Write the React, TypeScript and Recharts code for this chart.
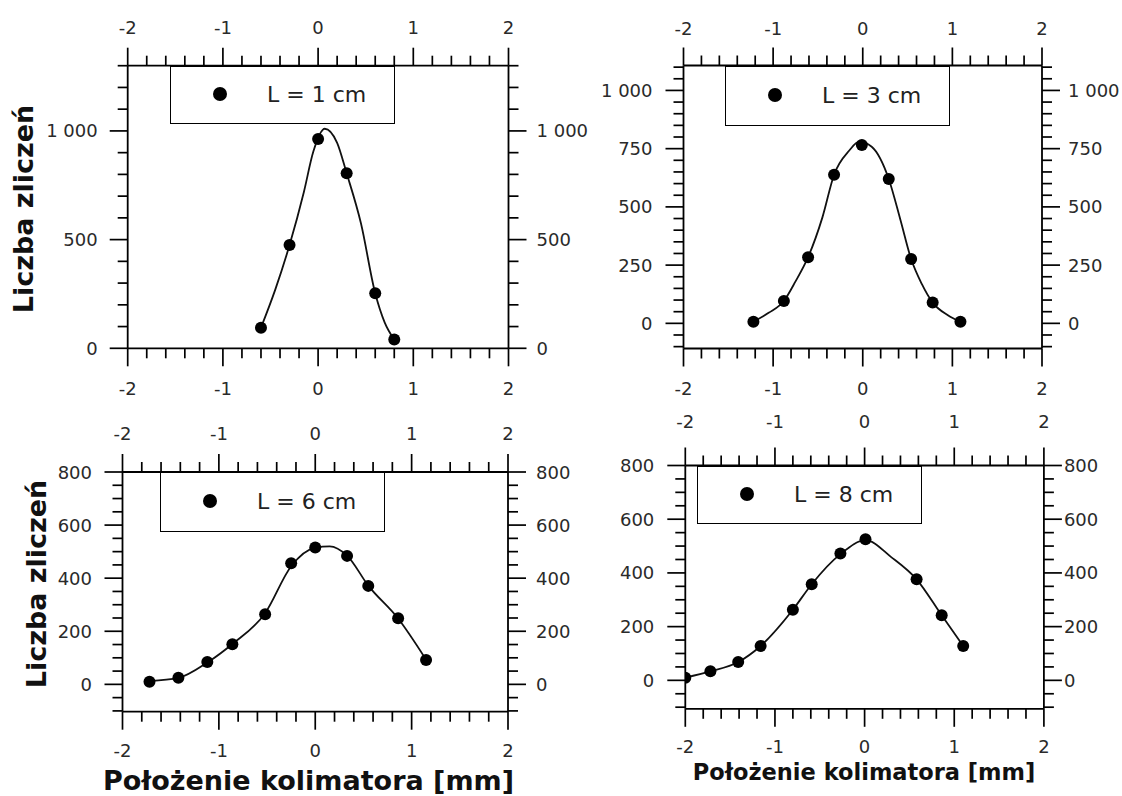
import React from "react";
import { ComposedChart, Scatter, Line, XAxis, YAxis, Legend } from "recharts";

// x axis ticks, same for all four panels (minor every 0.2, labels on integers)
const xTicks = [-2, -1.8, -1.6, -1.4, -1.2, -1, -0.8, -0.6, -0.4, -0.2, 0, 0.2, 0.4, 0.6, 0.8, 1, 1.2, 1.4, 1.6, 1.8, 2];
const xMajor = [-2, -1, 0, 1, 2];

// L = 1 cm
const p1X = [-0.6, -0.3, 0, 0.3, 0.6, 0.8];
const p1Y = [95, 475, 963, 805, 253, 41];
const p1FitX = [-0.6, -0.45, -0.3, -0.15, -0.05, 0.07, 0.2, 0.3, 0.45, 0.6, 0.7, 0.8];
const p1FitY = [95, 270, 475, 718, 905, 1010, 945, 805, 575, 253, 118, 40];
const p1YTicks = [0, 100, 200, 300, 400, 500, 600, 700, 800, 900, 1000, 1100, 1200, 1300];
const p1YMajor = [0, 500, 1000];

// L = 3 cm
const p2X = [-1.22, -0.88, -0.61, -0.32, -0.01, 0.29, 0.54, 0.78, 1.09];
const p2Y = [7, 96, 284, 638, 766, 620, 276, 89, 7];
const p2FitX = [-1.22, -1.05, -0.88, -0.75, -0.61, -0.45, -0.32, -0.15, -0.04, 0.1, 0.29, 0.42, 0.54, 0.66, 0.78, 0.95, 1.09];
const p2FitY = [7, 45, 96, 180, 284, 455, 638, 742, 780, 758, 620, 445, 276, 168, 89, 35, 7];
const p2YTicks = [-100, -50, 0, 50, 100, 150, 200, 250, 300, 350, 400, 450, 500, 550, 600, 650, 700, 750, 800, 850, 900, 950, 1000, 1050, 1100];
const p2YMajor = [0, 250, 500, 750, 1000];

// L = 6 cm
const p3X = [-1.72, -1.42, -1.12, -0.86, -0.52, -0.25, 0, 0.33, 0.55, 0.86, 1.15];
const p3Y = [10, 25, 84, 151, 264, 456, 516, 484, 371, 249, 92];
const p3FitX = [-1.72, -1.42, -1.12, -0.86, -0.52, -0.25, 0, 0.15, 0.33, 0.55, 0.86, 1.15];
const p3FitY = [12, 24, 82, 152, 268, 445, 515, 520, 485, 372, 248, 93];

// L = 8 cm
const p4X = [-2, -1.72, -1.41, -1.16, -0.8, -0.59, -0.27, 0.01, 0.58, 0.86, 1.1];
const p4Y = [10, 34, 68, 128, 263, 358, 472, 525, 376, 242, 128];
const p4FitX = [-2, -1.72, -1.41, -1.16, -0.8, -0.59, -0.27, 0.01, 0.3, 0.58, 0.86, 1.1];
const p4FitY = [10, 33, 68, 128, 263, 358, 470, 522, 458, 376, 242, 128];

const lowYTicks = [-100, -50, 0, 50, 100, 150, 200, 250, 300, 350, 400, 450, 500, 550, 600, 650, 700, 750, 800];
const lowYMajor = [0, 200, 400, 600, 800];

const zip = (xs: number[], ys: number[]) => xs.map((x, i) => ({ x, y: ys[i] }));

const W = 1122;
const H = 796;
const AX = 40;
const FONT = "'DejaVu Sans', Verdana, sans-serif";

const fmt = (v: number) => String(v).replace(/\B(?=(\d{3})+(?!\d))/g, " ");
const isMajor = (v: number, majors: number[]) => majors.some((m) => Math.abs(m - v) < 1e-6);

function tickFor(side: string, majors: number[], gap: number) {
  return (p: any) => {
    const { x, y, payload } = p;
    const v = payload.value;
    const big = isMajor(v, majors);
    const len = big ? 18 : 10;
    let x2 = x, y2 = y, tx = x, ty = y;
    let anchor = "middle";
    if (side === "bottom") { y2 = y + len; ty = y + gap; }
    if (side === "top") { y2 = y - len; ty = y - gap; }
    if (side === "left") { x2 = x - len; tx = x - gap; anchor = "end"; }
    if (side === "right") { x2 = x + len; tx = x + gap; anchor = "start"; }
    return (
      <g>
        <line x1={x} y1={y} x2={x2} y2={y2} stroke="#000" strokeWidth={1.7} />
        {big && (
          <text x={tx} y={ty} textAnchor={anchor} dominantBaseline="central" fontFamily={FONT} fontSize={18} fill="#2a2a2a">
            {fmt(v)}
          </text>
        )}
      </g>
    );
  };
}

const LegendBox = ({ label, w, h }: { label: string; w: number; h: number }) => (
  <div style={{ position: "relative", width: w, height: h, boxSizing: "border-box", border: "1.7px solid #000", background: "#fff" }}>
    <svg width={16} height={16} style={{ position: "absolute", left: 41, top: h / 2 - 10 }}>
      <circle cx={8} cy={8} r={7} fill="#000" />
    </svg>
    <span style={{ position: "absolute", left: 96, top: h / 2 - 16, fontFamily: FONT, fontSize: 22, lineHeight: "30px", color: "#222", whiteSpace: "nowrap" }}>
      {label}
    </span>
  </div>
);

type Box = { l: number; t: number; r: number; b: number };
type Gaps = { top: number; bottom: number; left: number; right: number };

type PanelProps = {
  name: string;
  points: { x: number; y: number }[];
  fit: { x: number; y: number }[];
  yTicks: number[];
  yMajor: number[];
  yDomain: [number, number];
  box: Box;
  gaps: Gaps;
  legend: { l: number; t: number; w: number; h: number };
};

const axisStyle = { stroke: "#000", strokeWidth: 1.8 };

const Panel = ({ name, points, fit, yTicks, yMajor, yDomain, box, gaps, legend }: PanelProps) => (
  <div style={{ position: "absolute", left: 0, top: 0 }}>
    <ComposedChart
      width={W}
      height={H}
      margin={{ left: box.l - AX, top: box.t - AX, right: W - box.r - AX, bottom: H - box.b - AX }}
    >
      <XAxis xAxisId="b" type="number" dataKey="x" domain={[-2, 2]} allowDataOverflow ticks={xTicks} interval={0}
        height={AX} tickSize={0} tickMargin={0} tickLine={false} axisLine={axisStyle} tick={tickFor("bottom", xMajor, gaps.bottom)} />
      <XAxis xAxisId="t" orientation="top" type="number" dataKey="x" domain={[-2, 2]} allowDataOverflow ticks={xTicks} interval={0}
        height={AX} tickSize={0} tickMargin={0} tickLine={false} axisLine={axisStyle} tick={tickFor("top", xMajor, gaps.top)} />
      <YAxis yAxisId="l" type="number" dataKey="y" domain={yDomain} allowDataOverflow ticks={yTicks} interval={0}
        width={AX} tickSize={0} tickMargin={0} tickLine={false} axisLine={axisStyle} tick={tickFor("left", yMajor, gaps.left)} />
      <YAxis yAxisId="r" orientation="right" type="number" dataKey="y" domain={yDomain} allowDataOverflow ticks={yTicks} interval={0}
        width={AX} tickSize={0} tickMargin={0} tickLine={false} axisLine={axisStyle} tick={tickFor("right", yMajor, gaps.right)} />
      <Line xAxisId="b" yAxisId="l" data={fit} dataKey="y" type="monotone" stroke="#111" strokeWidth={1.8}
        dot={false} isAnimationActive={false} legendType="none" />
      <Scatter xAxisId="b" yAxisId="l" data={points} dataKey="y" name={name} fill="#000" isAnimationActive={false}
        shape={(p: any) => <circle cx={p.cx} cy={p.cy} r={6} fill="#000" />} />
      <Legend verticalAlign="middle" align="center" layout="horizontal"
        wrapperStyle={{ left: legend.l, top: legend.t, width: legend.w, height: legend.h }}
        content={() => <LegendBox label={name} w={legend.w} h={legend.h} />} />
    </ComposedChart>
  </div>
);

export default function App() {
  return (
    <div style={{ position: "relative", width: W, height: H, background: "#fff", overflow: "hidden" }}>
      <style>{"body{margin:0}"}</style>
      <Panel name="L = 1 cm" points={zip(p1X, p1Y)} fit={zip(p1FitX, p1FitY)} yTicks={p1YTicks} yMajor={p1YMajor}
        yDomain={[0, 1300]} box={{ l: 127.7, t: 65.7, r: 508.5, b: 348.3 }}
        gaps={{ top: 38, bottom: 40, left: 30, right: 28 }} legend={{ l: 170, t: 66, w: 225, h: 58 }} />
      <Panel name="L = 3 cm" points={zip(p2X, p2Y)} fit={zip(p2FitX, p2FitY)} yTicks={p2YTicks} yMajor={p2YMajor}
        yDomain={[-108, 1107]} box={{ l: 683.5, t: 65.5, r: 1042, b: 348.5 }}
        gaps={{ top: 37.5, bottom: 39.5, left: 31, right: 26 }} legend={{ l: 725, t: 66, w: 225, h: 60 }} />
      <Panel name="L = 6 cm" points={zip(p3X, p3Y)} fit={zip(p3FitX, p3FitY)} yTicks={lowYTicks} yMajor={lowYMajor}
        yDomain={[-103, 800]} box={{ l: 122.5, t: 472, r: 508, b: 711.7 }}
        gaps={{ top: 39, bottom: 38.5, left: 30.5, right: 28 }} legend={{ l: 160, t: 472, w: 225, h: 60 }} />
      <Panel name="L = 8 cm" points={zip(p4X, p4Y)} fit={zip(p4FitX, p4FitY)} yTicks={lowYTicks} yMajor={lowYMajor}
        yDomain={[-106, 800]} box={{ l: 685.3, t: 465.5, r: 1043.9, b: 708.8 }}
        gaps={{ top: 44, bottom: 38, left: 31, right: 20 }} legend={{ l: 697, t: 466, w: 225, h: 58 }} />
      <svg width={W} height={H} style={{ position: "absolute", left: 0, top: 0, pointerEvents: "none" }}>
        <g fontFamily={FONT} fontWeight="bold" fill="#111">
          <text transform="translate(33,209) rotate(-90)" textAnchor="middle" fontSize={27}>Liczba zliczeń</text>
          <text transform="translate(46,584) rotate(-90)" textAnchor="middle" fontSize={27}>Liczba zliczeń</text>
          <text x={308.5} y={790} textAnchor="middle" fontSize={27}>Położenie kolimatora [mm]</text>
          <text x={864} y={780} textAnchor="middle" fontSize={22.5}>Położenie kolimatora [mm]</text>
        </g>
      </svg>
    </div>
  );
}
